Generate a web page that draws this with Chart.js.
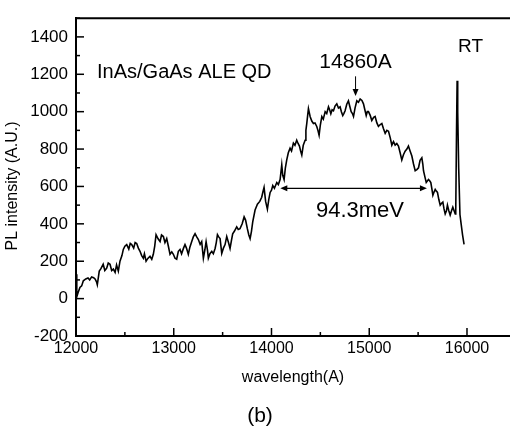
<!DOCTYPE html>
<html>
<head>
<meta charset="utf-8">
<title>PL spectrum</title>
<script src="https://cdn.jsdelivr.net/npm/chart.js@4/dist/chart.umd.min.js"></script>
<style>
  html, body { margin: 0; padding: 0; background: #fff; overflow: hidden; }
  canvas { display: block; }
</style>
</head>
<body>
<canvas id="plChart" width="510" height="428"></canvas>
<script>
// PL spectrum, wavelength in Angstrom
const wavelength = [
  12000, 12008, 12020, 12040, 12058, 12075, 12100, 12123, 12140, 12160, 12180, 12195, 12210, 12218, 12238, 12255,
  12278, 12295, 12314, 12330, 12348, 12365, 12382, 12400, 12415, 12433, 12450, 12470, 12484, 12500, 12519, 12540,
  12555, 12570, 12590, 12605, 12621, 12638, 12655, 12672, 12689, 12700, 12717, 12735, 12757, 12775, 12791, 12805,
  12819, 12840, 12860, 12875, 12894, 12910, 12928, 12945, 12962, 12980, 12996, 13013, 13030, 13047, 13064, 13080,
  13100, 13115, 13130, 13149, 13165, 13184, 13200, 13218, 13235, 13252, 13270, 13286, 13303, 13318, 13331, 13345,
  13354, 13370, 13389, 13405, 13423, 13435, 13447, 13460, 13474, 13491, 13508, 13525, 13542, 13560, 13576, 13590,
  13603, 13620, 13644, 13660, 13678, 13700, 13720, 13735, 13753, 13768, 13781, 13795, 13808, 13832, 13856, 13880,
  13900, 13912, 13924, 13940, 13958, 13972, 13986, 14000, 14013, 14030, 14054, 14070, 14088, 14105, 14115, 14129,
  14142, 14156, 14172, 14190, 14205, 14224, 14240, 14258, 14272, 14286, 14298, 14310, 14325, 14344, 14352, 14361,
  14370, 14378, 14395, 14412, 14429, 14445, 14463, 14475, 14487, 14500, 14515, 14530, 14549, 14565, 14583, 14595,
  14607, 14620, 14634, 14650, 14668, 14685, 14702, 14715, 14729, 14740, 14753, 14770, 14787, 14800, 14815, 14828,
  14839, 14855, 14873, 14890, 14907, 14925, 14941, 14955, 14969, 14980, 14992, 15010, 15026, 15045, 15060, 15078,
  15094, 15110, 15129, 15145, 15163, 15180, 15197, 15215, 15231, 15248, 15265, 15282, 15299, 15316, 15333, 15350,
  15367, 15385, 15401, 15418, 15436, 15453, 15470, 15487, 15504, 15520, 15538, 15548, 15555, 15570, 15583, 15606,
  15618, 15630, 15640, 15651, 15663, 15675, 15687, 15698, 15712, 15726, 15740, 15753, 15765, 15777, 15790, 15800,
  15814, 15828, 15842, 15855, 15868, 15880, 15885, 15893, 15899, 15905, 15915, 15928, 15940, 15955, 15970
];
const intensity = [
  130, 10, 30, 60, 68, 95, 105, 110, 100, 116, 112, 105, 90, 74, 147, 160,
  184, 150, 163, 190, 184, 150, 158, 140, 180, 147, 200, 230, 263, 280, 289, 265,
  295, 289, 270, 300, 295, 270, 253, 230, 216, 240, 200, 215, 226, 210, 237, 280,
  342, 320, 305, 340, 332, 300, 321, 280, 237, 250, 237, 216, 211, 253, 263, 240,
  270, 289, 270, 237, 275, 305, 330, 347, 330, 316, 290, 305, 216, 260, 305, 260,
  216, 240, 253, 240, 268, 300, 342, 330, 321, 242, 270, 289, 332, 300, 268, 310,
  347, 360, 384, 370, 374, 400, 437, 420, 374, 340, 321, 360, 411, 474, 505, 520,
  542, 570, 595, 520, 479, 530, 568, 580, 605, 590, 621, 610, 637, 716, 660, 637,
  700, 742, 780, 805, 790, 832, 820, 847, 830, 816, 790, 768, 820, 847, 900, 937,
  980, 1016, 974, 950, 937, 940, 921, 900, 874, 930, 974, 960, 1000, 990, 1026, 1010,
  989, 1010, 1005, 1030, 1042, 1020, 1026, 1000, 979, 990, 1005, 1040, 1058, 1030, 1000, 990,
  974, 1020, 1058, 1050, 1068, 1060, 1042, 1010, 979, 1000, 1000, 980, 953, 970, 974, 940,
  921, 930, 937, 910, 884, 900, 895, 860, 821, 840, 821, 830, 816, 780, 742, 770,
  789, 800, 816, 790, 763, 720, 684, 690, 700, 740, 753, 720, 684, 650, 621, 637,
  630, 621, 590, 553, 570, 584, 575, 568, 530, 500, 510, 516, 480, 453, 470, 500,
  470, 447, 470, 489, 470, 453, 470, 900, 1165, 1000, 700, 450, 400, 340, 290
];

const xTicks = [12000, 13000, 14000, 15000, 16000];
const yTicks = [-200, 0, 200, 400, 600, 800, 1000, 1200, 1400];

// annotation values
const peakWavelength = 14860;
const fwhmFrom = 14090;
const fwhmTo = 15590;
const fwhmLevel = 590;

const FONT = "'Liberation Sans', Arial, Helvetica, sans-serif";
Chart.defaults.font.family = FONT;
Chart.defaults.color = '#000';

function line(ctx, x1, y1, x2, y2) {
  ctx.beginPath();
  ctx.moveTo(x1, y1);
  ctx.lineTo(x2, y2);
  ctx.stroke();
}

function arrowHead(ctx, x, y, dx, dy) {
  // small filled head pointing along (dx, dy)
  const len = 7, half = 3;
  const px = -dy, py = dx;
  ctx.beginPath();
  ctx.moveTo(x, y);
  ctx.lineTo(x - dx * len + px * half, y - dy * len + py * half);
  ctx.lineTo(x - dx * len - px * half, y - dy * len - py * half);
  ctx.closePath();
  ctx.fill();
}

const figureMarks = {
  id: 'figureMarks',
  afterDraw(chart) {
    const { ctx, chartArea: a, scales: { x, y } } = chart;
    ctx.save();
    ctx.strokeStyle = '#000';
    ctx.fillStyle = '#000';

    // top frame
    ctx.lineWidth = 2;
    line(ctx, a.left - 1, a.top, a.right, a.top);

    // inward ticks, major and minor
    ctx.lineWidth = 1.5;
    const xStep = xTicks[1] - xTicks[0];
    xTicks.forEach(v => {
      const px = x.getPixelForValue(v);
      line(ctx, px, a.bottom, px, a.bottom - 8);
      const m = v + xStep / 2;
      if (m < x.max) {
        const mx = x.getPixelForValue(m);
        line(ctx, mx, a.bottom, mx, a.bottom - 4);
      }
    });
    const yStep = yTicks[1] - yTicks[0];
    yTicks.forEach(v => {
      const py = y.getPixelForValue(v);
      line(ctx, a.left, py, a.left + 8, py);
      const m = v + yStep / 2;
      if (m <= y.max) {
        const my = y.getPixelForValue(m);
        line(ctx, a.left, my, a.left + 4, my);
      }
    });

    // peak arrow
    ctx.lineWidth = 1;
    const ax = x.getPixelForValue(peakWavelength);
    const aTop = y.getPixelForValue(1189);
    const aBot = y.getPixelForValue(1084);
    line(ctx, ax, aTop, ax, aBot - 3);
    arrowHead(ctx, ax, aBot, 0, 1);

    // FWHM double arrow
    ctx.lineWidth = 1.3;
    const fy = y.getPixelForValue(fwhmLevel);
    const f1 = x.getPixelForValue(fwhmFrom);
    const f2 = x.getPixelForValue(fwhmTo);
    line(ctx, f1 + 3, fy, f2 - 3, fy);
    arrowHead(ctx, f1, fy, -1, 0);
    arrowHead(ctx, f2, fy, 1, 0);

    // labels
    ctx.textBaseline = 'alphabetic';
    ctx.textAlign = 'left';
    ctx.font = '20px ' + FONT;
    ctx.fillText('InAs/GaAs ALE QD', x.getPixelForValue(12215), y.getPixelForValue(1179));
    ctx.font = '19px ' + FONT;
    ctx.fillText('RT', x.getPixelForValue(15908), y.getPixelForValue(1321));
    ctx.textAlign = 'center';
    ctx.font = '21px ' + FONT;
    ctx.fillText(peakWavelength + 'A', ax, y.getPixelForValue(1232));
    ctx.font = '22px ' + FONT;
    ctx.fillText('94.3meV', x.getPixelForValue(14905), y.getPixelForValue(437));

    // y axis title
    ctx.font = '16px ' + FONT;
    ctx.textBaseline = 'middle';
    ctx.save();
    ctx.translate(13, 186);
    ctx.rotate(-Math.PI / 2);
    ctx.fillText('PL intensity (A.U.)', 0, 0);
    ctx.restore();

    // panel tag
    ctx.font = '21px ' + FONT;
    ctx.fillText('(b)', 260, 416);
    ctx.restore();
  }
};

const ctx = document.getElementById('plChart').getContext('2d');
const plChart = new Chart(ctx, {
  type: 'line',
  data: {
    datasets: [{
      data: wavelength.map((w, i) => ({ x: w, y: intensity[i] })),
      borderColor: '#000',
      borderWidth: 1.6,
      tension: 0,
      fill: false,
      pointRadius: 0
    }]
  },
  options: {
    responsive: false,
    animation: false,
    layout: { padding: { top: 13, left: 0, right: 0, bottom: 0 } },
    scales: {
      x: {
        type: 'linear',
        min: 12000,
        max: 16440,
        afterBuildTicks: scale => { scale.ticks = xTicks.map(v => ({ value: v })); },
        afterFit: scale => { scale.height = 92; },
        grid: { display: false, drawTicks: false },
        border: { display: true, color: '#000', width: 2 },
        ticks: {
          autoSkip: false,
          maxRotation: 0,
          padding: 3,
          color: '#000',
          font: { size: 16 },
          callback: v => String(v)
        },
        title: {
          display: true,
          text: 'wavelength(A)',
          color: '#000',
          font: { size: 16 },
          padding: { top: 0, bottom: 41 }
        }
      },
      y: {
        min: -200,
        max: 1500,
        afterBuildTicks: scale => { scale.ticks = yTicks.map(v => ({ value: v })); },
        afterFit: scale => { scale.width = 76; },
        grid: { display: false, drawTicks: false },
        border: { display: true, color: '#000', width: 2 },
        ticks: {
          padding: 8,
          color: '#000',
          font: { size: 17 },
          callback: v => String(v)
        }
      }
    },
    plugins: {
      legend: { display: false },
      title: { display: false },
      tooltip: { enabled: false }
    }
  },
  plugins: [figureMarks]
});
</script>
</body>
</html>
